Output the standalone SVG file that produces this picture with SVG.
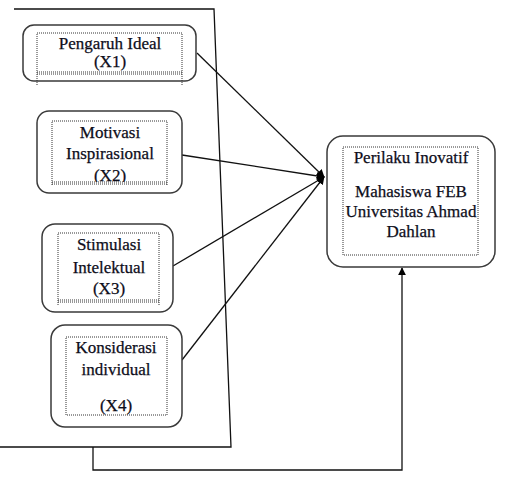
<svg xmlns="http://www.w3.org/2000/svg" width="516" height="481" viewBox="0 0 516 481">
<style>
.box{fill:#fff;stroke:#3a3a3a;stroke-width:1.5}
.dot{fill:none;stroke:#333;stroke-width:1;stroke-dasharray:1 1}
.ln{fill:none;stroke:#111;stroke-width:1.3}
text{font-family:"Liberation Serif","Times New Roman",serif;font-size:17px;fill:#0d0d1a;stroke:#0d0d1a;stroke-width:0.25;text-anchor:middle}
</style>
<defs>
<marker id="ah" viewBox="0 0 10 10" refX="9" refY="5" markerWidth="8" markerHeight="8" orient="auto-start-reverse" markerUnits="userSpaceOnUse">
<path d="M0,0 L10,5 L0,10 z" fill="#000"/>
</marker>
</defs>
<rect width="516" height="481" fill="#fff"/>
<g id="connectors">
<polyline class="ln" points="14,9 214,9 231,447 0,447"/>
<polyline class="ln" points="93,447 93,470 402,470 402,268" marker-end="url(#ah)"/>
<line class="ln" x1="197" y1="53" x2="324" y2="177" marker-end="url(#ah)"/>
<line class="ln" x1="182" y1="155" x2="324" y2="177" marker-end="url(#ah)"/>
<line class="ln" x1="173" y1="266" x2="324" y2="177" marker-end="url(#ah)"/>
<line class="ln" x1="182" y1="360" x2="324" y2="177" marker-end="url(#ah)"/>
</g>
<g id="x1">
<rect class="box" x="23" y="25" width="173" height="56" rx="11"/>
<rect class="dot" x="37" y="33" width="145" height="39"/>
<line class="dot" x1="37" y1="74" x2="182" y2="74"/>
<line class="dot" x1="37" y1="72" x2="37" y2="86"/>
<line class="dot" x1="182" y1="72" x2="182" y2="86"/>
<text x="110" y="49">Pengaruh Ideal</text>
<text x="110" y="67">(X1)</text>
</g>
<g id="x2">
<rect class="box" x="37" y="111" width="145" height="82" rx="12"/>
<text x="110" y="138">Motivasi</text>
<text x="110" y="159">Inspirasional</text>
<text x="110" y="181">(X2)</text>
<rect x="52" y="182" width="115" height="6" fill="#fff"/>
<rect class="dot" x="52" y="121" width="115" height="61"/>
<line class="dot" x1="52" y1="184" x2="167" y2="184"/>
<line class="dot" x1="52" y1="182" x2="52" y2="186"/>
<line class="dot" x1="167" y1="182" x2="167" y2="186"/>
</g>
<g id="x3">
<rect class="box" x="42" y="224" width="131" height="88" rx="13"/>
<rect class="dot" x="58" y="233" width="101" height="67"/>
<line class="dot" x1="58" y1="302" x2="159" y2="302"/>
<line class="dot" x1="58" y1="300" x2="58" y2="306"/>
<line class="dot" x1="159" y1="300" x2="159" y2="306"/>
<text x="109" y="250">Stimulasi</text>
<text x="109" y="273">Intelektual</text>
<text x="109" y="294">(X3)</text>
</g>
<g id="x4">
<rect class="box" x="51" y="325" width="131" height="102" rx="14"/>
<rect class="dot" x="66" y="337" width="101" height="78"/>
<text x="116" y="353">Konsiderasi</text>
<text x="116" y="375">individual</text>
<text x="116" y="411">(X4)</text>
</g>
<g id="y">
<rect class="box" x="327" y="136" width="168" height="131" rx="16"/>
<rect class="dot" x="343" y="147" width="135" height="108"/>
<text x="411" y="163">Perilaku Inovatif</text>
<text x="411" y="197">Mahasiswa FEB</text>
<text x="411" y="217">Universitas Ahmad</text>
<text x="411" y="237">Dahlan</text>
</g>
</svg>
